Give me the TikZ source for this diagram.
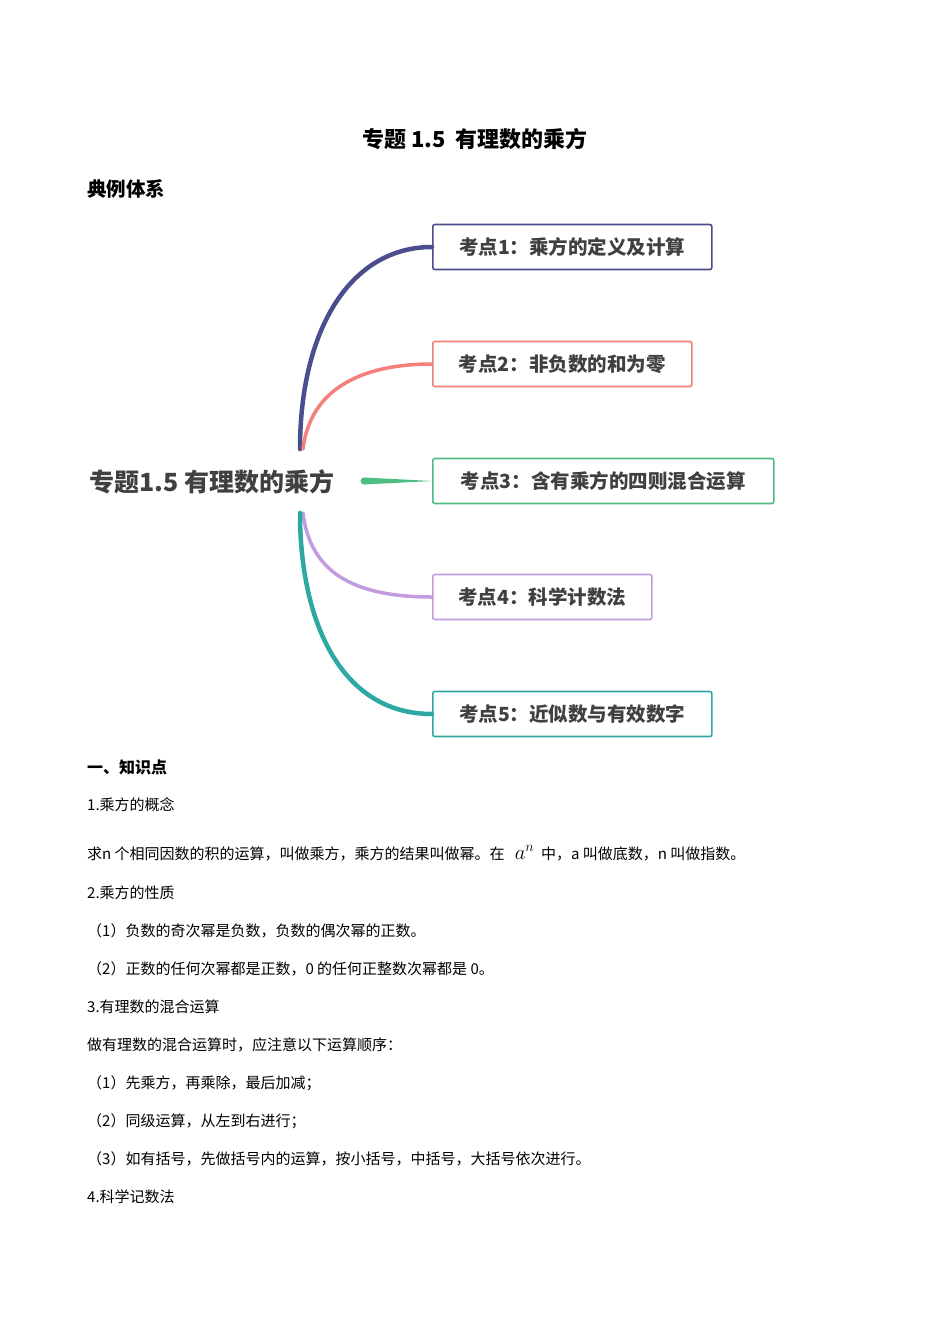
\documentclass[tikz,border=0pt]{standalone}
\usepackage{fontspec}
\setmainfont{Liberation Serif}
\newfontfamily\cjk{Noto Sans CJK SC}
\definecolor{cA}{HTML}{4B4E8C}
\definecolor{cB}{HTML}{F47F7B}
\definecolor{cC}{HTML}{4DBD83}
\definecolor{cD}{HTML}{C39BDF}
\definecolor{cE}{HTML}{2DA8A2}
\definecolor{tg}{HTML}{404040}
\begin{document}
\begin{tikzpicture}[x=1pt,y=-1pt,
  kbox/.style={draw=#1,line width=1.6pt,rounded corners=2pt,minimum height=45pt,anchor=west,inner xsep=20pt,font=\cjk\bfseries\fontsize{19.5}{19.5}\selectfont,text=tg,fill=white},
  body/.style={anchor=west,inner sep=0pt,font=\cjk\fontsize{15}{15}\selectfont},
  br/.style={line width=3.5pt,line cap=round}]
\useasboundingbox[fill=white] (0,0) rectangle (950,1344);
\node[anchor=center,font=\cjk\bfseries\fontsize{22}{22}\selectfont] (title) at (475,139) {专题 1.5\ \ 有理数的乘方};
\node[anchor=west,inner sep=0pt,font=\cjk\bfseries\fontsize{19.5}{19.5}\selectfont] (h) at (87,189) {典例体系};
\node[anchor=west,inner sep=0pt,font=\cjk\bfseries\fontsize{25}{25}\selectfont,text=tg] (root) at (89,482) {专题1.5 有理数的乘方};
\node[kbox=cA,minimum width=279pt] (k1) at (432,247) {考点1：乘方的定义及计算};
\node[kbox=cB,minimum width=259pt] (k2) at (432,364) {考点2：非负数的和为零};
\node[kbox=cC,minimum width=341pt] (k3) at (432,481) {考点3：含有乘方的四则混合运算};
\node[kbox=cD,minimum width=219pt] (k4) at (432,597) {考点4：科学计数法};
\node[kbox=cE,minimum width=279pt] (k5) at (432,714) {考点5：近似数与有效数字};
\coordinate (s1) at (300,449);
\coordinate (s2) at (303,449);
\coordinate (s4) at (303,513);
\coordinate (s5) at (300,513);
\coordinate (s3) at (364,481);
\draw[cA,br,line width=4.5pt] (k1.west) .. controls (350,247) and (300,330) .. (s1);
\draw[cB,br] (k2.west) .. controls (360,364) and (310,390) .. (s2);
\draw[cD,br] (k4.west) .. controls (350,597) and (310,570) .. (s4);
\draw[cE,br,line width=4.5pt] (k5.west) .. controls (340,714) and (300,620) .. (s5);
\fill[cC] (364,477.5) -- (k3.west) -- (364,484.5) -- cycle;
\fill[cC] (s3) circle (3.5);
\node[anchor=west,inner sep=0pt,font=\cjk\bfseries\fontsize{16}{16}\selectfont] (t0) at (87,767) {一、知识点};
\node[body] (t1) at (87,805) {1.乘方的概念};
\node[body] (t2) at (87,853) {求n 个相同因数的积的运算，叫做乘方，乘方的结果叫做幂。在 \ \ \fontsize{20}{20}\selectfont$a^n$\fontsize{15}{15}\selectfont\ \ 中，a 叫做底数，n 叫做指数。};
\node[body] (t3) at (87,893) {2.乘方的性质};
\node[body] (t4) at (87,931) {（1）负数的奇次幂是负数，负数的偶次幂的正数。};
\node[body] (t5) at (87,969) {（2）正数的任何次幂都是正数，0 的任何正整数次幂都是 0。};
\node[body] (t6) at (87,1007) {3.有理数的混合运算};
\node[body] (t7) at (87,1045) {做有理数的混合运算时，应注意以下运算顺序：};
\node[body] (t8) at (87,1083) {（1）先乘方，再乘除，最后加减；};
\node[body] (t9) at (87,1121) {（2）同级运算，从左到右进行；};
\node[body] (t10) at (87,1159) {（3）如有括号，先做括号内的运算，按小括号，中括号，大括号依次进行。};
\node[body] (t11) at (87,1197) {4.科学记数法};
\end{tikzpicture}
\end{document}
